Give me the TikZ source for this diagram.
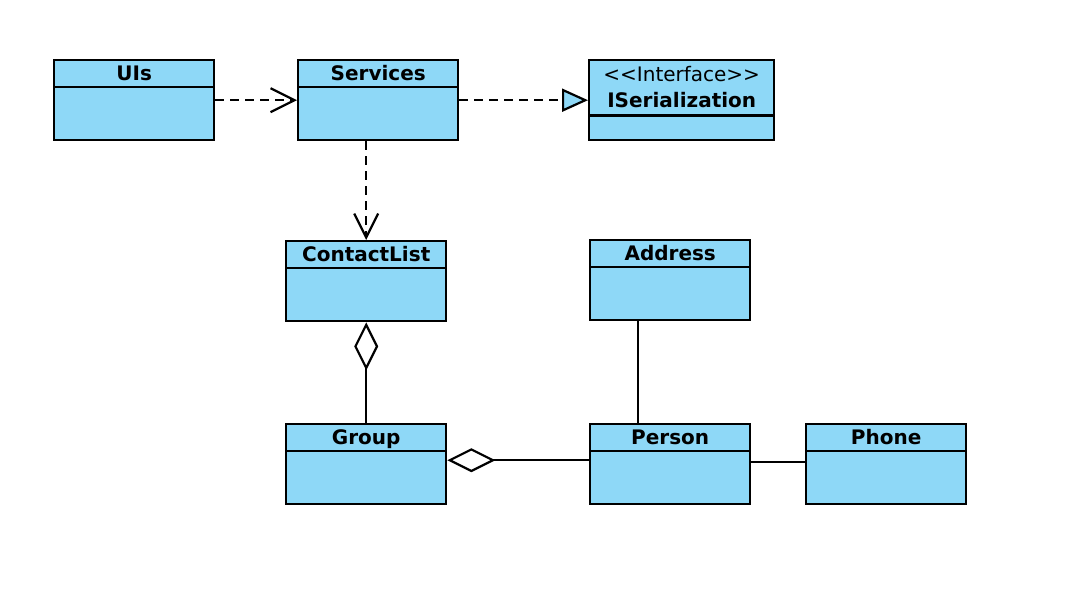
\documentclass[tikz,border=0pt]{standalone}
\usepackage{fontspec}
\setmainfont{DejaVu Sans}
\usepackage{tikz}
\usetikzlibrary{arrows.meta}
\definecolor{umlblue}{RGB}{142,216,247}

\begin{document}
\begin{tikzpicture}[x=0.5pt, y=-0.5pt,
    class/.style={draw, fill=umlblue, line width=1.2pt, minimum width=80pt,
      minimum height=40pt, inner sep=0pt, anchor=north west},
    title/.style={anchor=base, inner sep=0pt, font=\fontsize{10pt}{12pt}\selectfont\bfseries},
    stereo/.style={anchor=base, inner sep=0pt, font=\fontsize{10pt}{12pt}\selectfont},
    dep/.style={line width=1.1pt, dash pattern=on 4.5pt off 3pt,
      -{Straight Barb[length=12pt, width=12pt, line width=1.1pt]}},
    real/.style={line width=1.1pt, dash pattern=on 4.5pt off 3pt,
      -{Triangle[length=13pt, width=11.5pt, line width=1.1pt, fill=umlblue]}},
    agg/.style={line width=1.1pt, {Diamond[open, length=24pt, width=12pt, line width=1.1pt]}-},
    assoc/.style={line width=1.1pt}]
    \useasboundingbox (0,0) rectangle (1068,588);

    % Draw the classes
    \node[class] (ui) at (53,59) {};
    \node[class] (services) at (297,59) {};
    \node[class, minimum width=92.5pt] (iser) at (588,59) {};
    \node[class] (contactlist) at (285,240) {};
    \node[class] (address) at (589,239) {};
    \node[class] (group) at (285,423) {};
    \node[class] (person) at (589,423) {};
    \node[class] (phone) at (805,423) {};

    % Class names and separators
    \foreach \n/\t in {ui/UIs, services/Services, contactlist/ContactList,
        address/Address, group/Group, person/Person, phone/Phone} {
      \node[title] (\n-name) at ([yshift=-10.8pt]\n.north) {\t};
      \draw[line width=1.2pt] ([yshift=-14pt]\n.north west) -- ([yshift=-14pt]\n.north east);
    }
    \node[stereo] (iser-stereo) at ([yshift=-11.3pt]iser.north) {<\kern0pt<Interface>\kern0pt>};
    \node[title] (iser-name) at ([yshift=-24.2pt]iser.north) {ISerialization};
    \draw[line width=1.2pt] ([yshift=-28.3pt]iser.north west) -- ([yshift=-28.3pt]iser.north east);

    % Draw the relations
    \draw[dep] (ui.east) -- (services.west);
    \draw[real] (services.east) -- (iser.west);
    \draw[dep] (services.south -| contactlist.north) -- (contactlist.north);
    \draw[agg] (contactlist.south) -- (group.north);
    \draw[agg] ([yshift=2pt]group.east) -- ([yshift=2pt]person.west);
    \draw[assoc] ([xshift=-16pt]address.south) -- ([xshift=-16pt]person.north);
    \draw[assoc] ([yshift=1pt]person.east) -- ([yshift=1pt]phone.west);
\end{tikzpicture}
\end{document}
